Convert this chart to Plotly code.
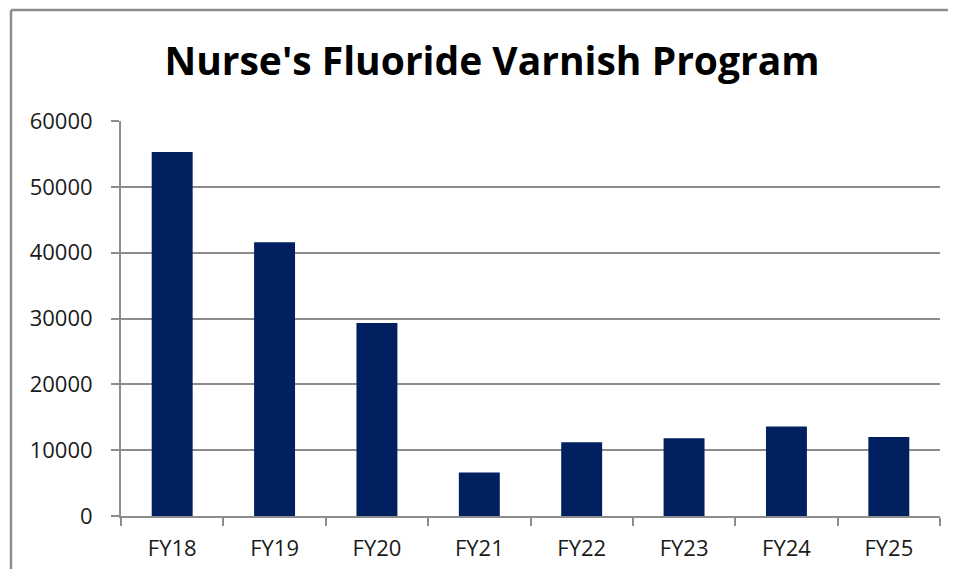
import plotly.graph_objects as go

categories = ["FY18", "FY19", "FY20", "FY21", "FY22", "FY23", "FY24", "FY25"]
values = [55300, 41600, 29300, 6600, 11200, 11800, 13600, 12000]
y_ticks = [0, 10000, 20000, 30000, 40000, 50000, 60000]

# The page body has an 8px margin, so figure coordinates are offset by 8px.
W, H = 940, 561
ml, mr, mt, mb = 113, 8, 113, 53
pw = W - ml - mr
ph = H - mt - mb

fig = go.Figure()
fig.add_trace(go.Bar(
    x=categories, y=values,
    marker=dict(color="#00205F", line=dict(width=0)),
    width=0.4,
))

grid = "#8C8C8C"
tick_font = dict(family="Open Sans", size=22, color="#1A1A1A")
fig.update_layout(
    width=W, height=H,
    margin=dict(l=ml, r=mr, t=mt, b=mb),
    paper_bgcolor="white", plot_bgcolor="white",
    showlegend=False,
    title=dict(text="<b>Nurse's Fluoride Varnish Program</b>",
               x=484 / W, xanchor="center", xref="container",
               y=1 - 53 / H, yanchor="middle", yref="container",
               font=dict(family="Open Sans", size=39, color="black")),
    xaxis=dict(showgrid=False, showline=True, linecolor=grid, linewidth=2,
               ticks="outside", ticklen=8, tickcolor=grid, tickwidth=2,
               tickson="boundaries",
               ticklabelstandoff=12,
               tickfont=tick_font,
               fixedrange=True),
    yaxis=dict(range=[0, 60000], tickvals=y_ticks,
               tickformat="d",
               showgrid=True, gridcolor=grid, gridwidth=2,
               showline=True, linecolor=grid, linewidth=2,
               ticks="outside", ticklen=8, tickcolor=grid, tickwidth=2,
               ticklabelstandoff=14,
               tickfont=tick_font,
               zeroline=False, fixedrange=True),
)

# Outer chart frame (top and left edges visible)
x_left = (3 - ml) / pw
y_top = 1 + (mt - 2) / ph
fig.add_shape(type="line", xref="paper", yref="paper",
              x0=x_left, x1=1 + (mr + 10) / pw, y0=y_top, y1=y_top,
              line=dict(color="#8C8C8C", width=2.5))
fig.add_shape(type="line", xref="paper", yref="paper",
              x0=x_left, x1=x_left, y0=y_top, y1=-(mb + 10) / ph,
              line=dict(color="#8C8C8C", width=2.5))

fig.write_html("out.html")
